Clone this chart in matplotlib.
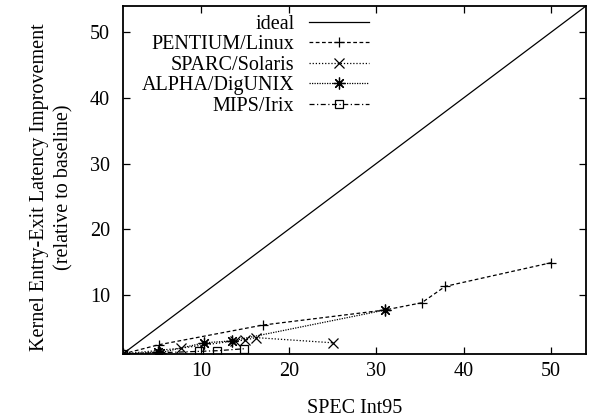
import matplotlib
matplotlib.use("Agg")
from matplotlib import pyplot as plt

plt.rcParams['font.family'] = ['Liberation Serif', 'DejaVu Serif']
plt.rcParams['font.size'] = 14.5

# ideal line (y = x)
ideal_x = [1, 54]
ideal_y = [1, 54]

# measured speedups vs SPEC Int95 rating
pentium_x = [1, 5.1, 17.0, 31.0, 35.2, 37.9, 50.0]
pentium_y = [1, 2.4, 5.4, 7.7, 8.8, 11.3, 14.9]

sparc_x = [1, 7.7, 13.8, 15.0, 16.2, 25.1]
sparc_y = [1, 1.9, 3.0, 3.1, 3.5, 2.7]

alpha_x = [1, 5.0, 5.3, 10.3, 13.5, 31.0]
alpha_y = [1, 1.3, 1.2, 2.7, 3.0, 7.7]

mips_x = [1, 9.7, 11.8, 14.9]
mips_y = [1, 1.4, 1.5, 1.8]

fig = plt.figure(figsize=(5.89, 4.19), dpi=100)
ax = fig.add_axes([122.7 / 589, 1 - 354 / 419, (586 - 122.7) / 589, (354 - 6) / 419])

lw = 0.9
ax.plot(ideal_x, ideal_y, color='black', lw=lw, label='ideal')
ax.plot(pentium_x, pentium_y, color='black', lw=lw, ls=(0, (3, 2)),
        marker='+', ms=7.5, mew=0.9, label='PENTIUM/Linux')
ax.plot(sparc_x, sparc_y, color='black', lw=lw, ls=(0, (1, 1.5)),
        marker='x', ms=7, mew=0.9, label='SPARC/Solaris')
ax.plot(alpha_x, alpha_y, color='black', lw=lw, ls=(0, (1, 1)),
        marker=(8, 2, 0), ms=8.5, mew=0.9, label='ALPHA/DigUNIX')
ax.plot(mips_x, mips_y, color='black', lw=lw, ls=(0, (4, 2, 1, 2)),
        marker='s', ms=6, mew=0.9, mfc='none', label='MIPS/Irix')

ax.set_xlim(1, 54)
ax.set_ylim(1, 54)
ax.set_xticks([10, 20, 30, 40, 50])
ax.set_yticks([10, 20, 30, 40, 50])
ax.tick_params(direction='in', length=5, width=0.9, top=True, right=True)
ax.tick_params(axis='x', pad=6)
ax.tick_params(axis='y', pad=9)
for s in ax.spines.values():
    s.set_linewidth(1.3)

ax.set_xlabel('SPEC Int95', labelpad=13)
ax.set_ylabel('Kernel Entry-Exit Latency Improvement\n(relative to baseline)',
              linespacing=1.35, labelpad=12)
# gnuplot puts the label a bit lower than centre
ax.yaxis.label.set_y(0.48)

leg = ax.legend(loc='upper right', bbox_to_anchor=((369 - 122.7) / 463.3, 0.975),
                frameon=False, markerfirst=False, handlelength=3.0,
                handletextpad=0.7, labelspacing=0.07, borderpad=0, borderaxespad=0)

fig.savefig('out.png', dpi=100)
